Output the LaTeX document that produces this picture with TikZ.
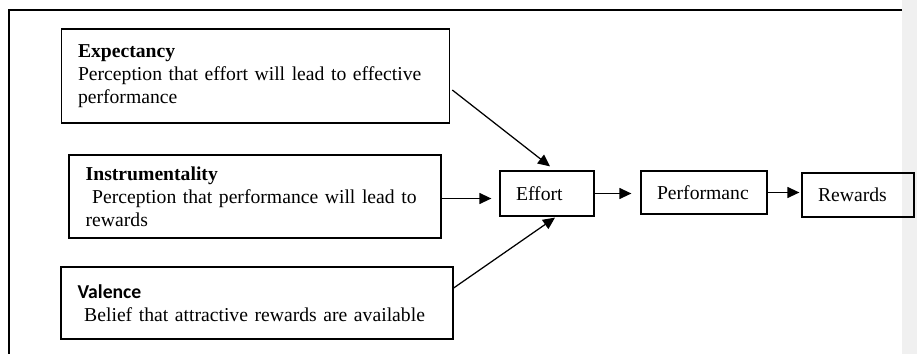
\documentclass[tikz,border=0pt]{standalone}
\usepackage{fontspec}
\setmainfont{Liberation Serif}
\newfontfamily\calibrifont{Carlito}
\usepackage{xcolor}
\usepackage{tikz}
\usetikzlibrary{arrows.meta,positioning,calc}

\begin{document}
\begin{tikzpicture}[x=0.6pt,y=-0.6pt,
    factor/.style={draw,line width=0.75pt,align=left,inner xsep=10pt,inner ysep=0pt,
        font=\fontsize{11.8}{13.8}\selectfont},
    stage/.style={draw,line width=0.75pt,align=left,inner xsep=9.6pt,inner ysep=0pt,
        font=\fontsize{11.8}{13.8}\selectfont},
    link/.style={line width=0.75pt,-{Triangle[length=7.2pt,width=6.6pt]}}]
\useasboundingbox (0,0) rectangle (917,354);

% Page frame
\fill[gray!12] (902,0) rectangle (917,354);
\draw[line width=0.9pt] (902,10) -- (9,10) -- (9,354);

% Three factors
\node[factor,text width=213pt,minimum height=56.4pt] (exp) at (255.5,76)
    {\textbf{Expectancy}\\Perception that effort will lead to effective\\performance};
\node[factor,text width=203.2pt,minimum height=49.8pt] (ins) at (255,196.5)
    {\textbf{Instrumentality}\\\ Perception that performance will lead to\\rewards};
\node[factor,text width=215.2pt,minimum height=43.2pt] (val) at (257,303)
    {{\calibrifont\bfseries Valence}\\\ Belief that attractive rewards are available};

% Chain
\node[stage,text width=37.2pt,minimum height=27pt] (eff) at (547,193.5) {Effort};
\node[stage,text width=56.4pt,minimum height=25.8pt] (perf) at (704,192.5) {Performanc};
\node[stage,text width=48pt,minimum height=26.4pt] (rew) at (858,195) {Rewards};

% Arrows
\draw[link] ($(exp.east)+(2,14)$) -- ($(eff.north)+(3,-4)$);
\draw[link,shorten >=4.8pt] ($(ins.east)+(0,2)$) -- ($(ins.east -| eff.west)+(0,2)$);
\draw[link] ($(val.east)+(0,-15)$) -- ($(eff.south)+(8,1)$);
\draw[link,shorten >=5.4pt] (eff.east) -- (eff.east -| perf.west);
\draw[link,shorten >=1.2pt] (perf.east) -- (perf.east -| rew.west);
\end{tikzpicture}
\end{document}
